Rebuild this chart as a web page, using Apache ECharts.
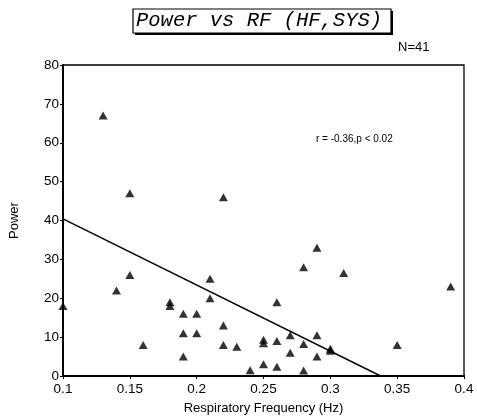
<!DOCTYPE html>
<html>
<head>
<meta charset="utf-8">
<script src="https://cdn.jsdelivr.net/npm/echarts@6/dist/echarts.min.js"></script>
<style>html,body{margin:0;padding:0;background:#fff;}#c{width:477px;height:420px;}</style>
</head>
<body>
<div id="c"></div>
<script>
// Respiratory frequency (Hz)
var rfValues = [0.10,0.13,0.15,0.22,0.15,0.14,0.16,0.18,0.18,0.19,0.19,0.19,0.20,0.20,0.21,0.21,0.22,0.22,0.23,0.24,
                0.29,0.28,0.31,0.39,0.26,0.27,0.29,0.25,0.25,0.26,0.28,0.27,0.30,0.30,0.29,0.35,0.25,0.26,0.28];
// Power
var powerValues = [18,67,47,46,26,22,8,19,18,16,11,5,16,11,25,20,13,8,7.5,1.5,
                   33,28,26.5,23,19,10.5,10.5,9.3,8.4,9,8.2,6,7,6.5,5,8,3,2.4,1.4];
// Regression line endpoints
var fitX = [0.10, 0.3376];
var fitY = [40.4, 0];
var xTicks = [0.1,0.15,0.2,0.25,0.3,0.35,0.4];
var yTicks = [0,10,20,30,40,50,60,70,80];
var titleText = 'Power vs RF (HF,SYS)';
var nText = 'N=41';
var statText = 'r = -0.36,p < 0.02';

var pts = rfValues.map(function(x,i){return [x, powerValues[i]];});
var fit = fitX.map(function(x,i){return [x, fitY[i]];});
var font = '"Liberation Sans", Arial, sans-serif';

var chart = echarts.init(document.getElementById('c'));
chart.setOption({
  backgroundColor: '#fff',
  animation: false,
  title: [{
    text: titleText,
    left: 136, top: 9, padding: 0, z: 10,
    textStyle: {fontFamily: '"Liberation Mono", "Courier New", monospace', fontStyle: 'italic', fontWeight: 'normal', fontSize: 20.5, color: '#000', lineHeight: 24}
  },{
    text: nText, left: 393, top: 36,
    textStyle: {fontFamily: font, fontWeight: 'normal', fontSize: 13, color: '#000'}
  }],
  grid: {left: 61, right: 13, top: 65, bottom: 44, show: true, borderColor: '#000', borderWidth: 1.3},
  xAxis: {
    type: 'value', min: 0.1, max: 0.4, interval: 0.05,
    name: 'Respiratory Frequency (Hz)', nameLocation: 'middle', nameGap: 26,
    nameTextStyle: {fontFamily: font, fontSize: 13, color: '#000'},
    axisLine: {lineStyle: {color: '#000', width: 2}},
    axisTick: {length: 3, lineStyle: {color: '#000'}},
    splitLine: {show: false},
    axisLabel: {fontFamily: font, fontSize: 13.5, color: '#000', margin: 6,
      formatter: function(v){ var t = xTicks.filter(function(k){return Math.abs(k-v)<1e-6;}); return t.length? String(t[0]) : ''; }}
  },
  yAxis: {
    type: 'value', min: 0, max: 80, interval: 10,
    name: 'Power', nameLocation: 'middle', nameGap: 42, nameRotate: 90,
    nameTextStyle: {fontFamily: font, fontSize: 13, color: '#000'},
    axisLine: {lineStyle: {color: '#000', width: 2}},
    axisTick: {length: 3, lineStyle: {color: '#000'}},
    splitLine: {show: false},
    axisLabel: {fontFamily: font, fontSize: 13.5, color: '#000', margin: 4,
      formatter: function(v){ return yTicks.indexOf(v) >= 0 ? String(v) : ''; }}
  },
  graphic: [{
    type: 'rect', z: 1, shape: {x: 135, y: 11, width: 258, height: 24},
    style: {fill: '#000'}
  },{
    type: 'rect', z: 2, shape: {x: 133, y: 9, width: 258, height: 24},
    style: {fill: '#fff', stroke: '#000', lineWidth: 1.2}
  },{
    type: 'text', left: 316, top: 134,
    style: {text: statText, font: '10px ' + font, fill: '#000'}
  }],
  series: [{
    type: 'line', data: fit, symbol: 'none',
    lineStyle: {color: '#000', width: 1.4}, z: 2
  },{
    type: 'scatter', data: pts, symbol: 'triangle', symbolSize: [9, 8],
    itemStyle: {color: '#000'}, z: 3
  }]
});
</script>
</body>
</html>
